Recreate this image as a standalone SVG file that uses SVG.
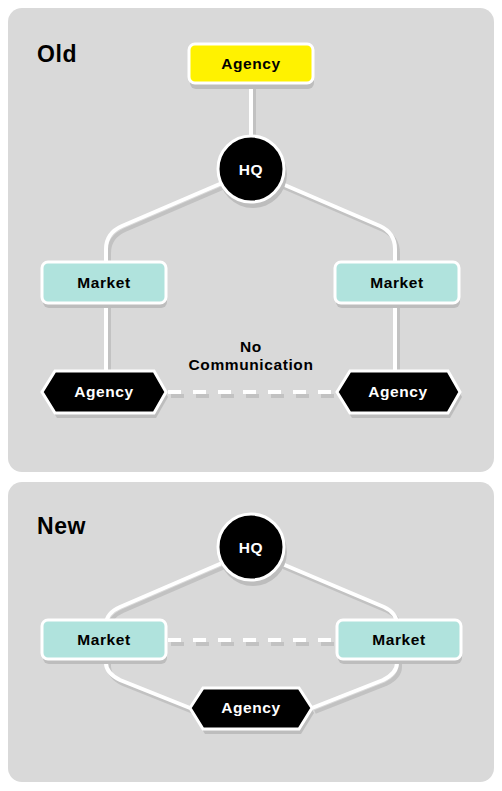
<svg xmlns="http://www.w3.org/2000/svg" width="502" height="791" viewBox="0 0 502 791">
<defs>
<style>
.panel{fill:#d9d9d9}
.sh{fill:#bdbdbd}
.lnsh{fill:none;stroke:#c2c2c2;stroke-width:4}
.ln{fill:none;stroke:#fff;stroke-width:4}
.dash{stroke-dasharray:13 12}
.mk{fill:#b0e3dd;stroke:#fff;stroke-width:3}
.ag{fill:#000;stroke:#fff;stroke-width:3}
.yl{fill:#fff200;stroke:#fff;stroke-width:3}
.t{font-family:"Liberation Sans",Arial,sans-serif;font-weight:bold;font-size:15.5px;letter-spacing:0.6px;text-anchor:middle}
.tw{fill:#fff}
.tb{fill:#000}
.title{font-family:"Liberation Sans",Arial,sans-serif;font-weight:bold;font-size:23px;letter-spacing:0.6px;fill:#000}
</style>
</defs>
<rect x="0" y="0" width="502" height="791" fill="#fff"/>
<rect class="panel" x="8" y="8" width="486" height="464" rx="14"/>
<rect class="panel" x="8" y="482" width="486" height="300" rx="14"/>
<text class="title" x="37" y="62">Old</text>
<text class="title" x="37" y="534">New</text>

<g id="connectors">
  <g transform="translate(3,4)">
    <path class="lnsh" d="M251 84 L251 137"/>
    <path class="lnsh" d="M222 183 L122 226 Q106 233 106 249 L106 372"/>
    <path class="lnsh" d="M280 183 L380 226 Q395 233 395 249 L395 372"/>
    <path class="lnsh dash" d="M168 392 L336 392"/>
    <path class="lnsh" d="M222 563 L120 607 Q106 613 106 625"/>
    <path class="lnsh" d="M280 563 L384 607 Q397 613 397 625"/>
    <path class="lnsh" d="M106 658 L106 663 Q106 673 120 680 L190 708"/>
    <path class="lnsh" d="M397 658 L397 663 Q397 673 383 680 L312 708"/>
    <path class="lnsh dash" d="M168 640 L336 640"/>
  </g>
  <path class="ln" d="M251 84 L251 137"/>
  <path class="ln" d="M222 183 L122 226 Q106 233 106 249 L106 372"/>
  <path class="ln" d="M280 183 L380 226 Q395 233 395 249 L395 372"/>
  <path class="ln dash" d="M168 392 L336 392"/>
  <path class="ln" d="M222 563 L120 607 Q106 613 106 625"/>
  <path class="ln" d="M280 563 L384 607 Q397 613 397 625"/>
  <path class="ln" d="M106 658 L106 663 Q106 673 120 680 L190 708"/>
  <path class="ln" d="M397 658 L397 663 Q397 673 383 680 L312 708"/>
  <path class="ln dash" d="M168 640 L336 640"/>
</g>

<g id="old-agency-top">
  <rect class="sh" x="190" y="49" width="124" height="40" rx="6"/>
  <rect class="yl" x="189" y="44" width="124" height="39" rx="6"/>
  <text class="t tb" x="251" y="69">Agency</text>
</g>
<g id="old-hq">
  <circle class="sh" cx="253" cy="174" r="34"/>
  <circle class="ag" cx="251" cy="169" r="33"/>
  <text class="t tw" x="251" y="175">HQ</text>
</g>
<g id="old-market-left">
  <rect class="sh" x="43" y="267" width="124" height="41" rx="6"/>
  <rect class="mk" x="42" y="262" width="124" height="41" rx="6"/>
  <text class="t tb" x="104" y="288">Market</text>
</g>
<g id="old-market-right">
  <rect class="sh" x="336" y="267" width="124" height="41" rx="6"/>
  <rect class="mk" x="335" y="262" width="124" height="41" rx="6"/>
  <text class="t tb" x="397" y="288">Market</text>
</g>
<g id="old-agency-left">
  <polygon class="sh" points="44,397 57,376 156,376 168,397 156,418 57,418"/>
  <polygon class="ag" points="42,392 55,371 154,371 166,392 154,413 55,413"/>
  <text class="t tw" x="104" y="397">Agency</text>
</g>
<g id="old-agency-right">
  <polygon class="sh" points="339,397 352,376 450,376 462,397 450,418 352,418"/>
  <polygon class="ag" points="337,392 350,371 448,371 460,392 448,413 350,413"/>
  <text class="t tw" x="398" y="397">Agency</text>
</g>
<g id="no-communication">
  <text class="t tb" x="251" y="352">No</text>
  <text class="t tb" x="251" y="370">Communication</text>
</g>

<g id="new-hq">
  <circle class="sh" cx="253" cy="552" r="34"/>
  <circle class="ag" cx="251" cy="547" r="33"/>
  <text class="t tw" x="251" y="553">HQ</text>
</g>
<g id="new-market-left">
  <rect class="sh" x="43" y="625" width="124" height="39" rx="6"/>
  <rect class="mk" x="42" y="620" width="124" height="39" rx="6"/>
  <text class="t tb" x="104" y="645">Market</text>
</g>
<g id="new-market-right">
  <rect class="sh" x="338" y="625" width="124" height="39" rx="6"/>
  <rect class="mk" x="337" y="620" width="124" height="39" rx="6"/>
  <text class="t tb" x="399" y="645">Market</text>
</g>
<g id="new-agency">
  <polygon class="sh" points="192,713 205,693 301,693 314,713 301,734 205,734"/>
  <polygon class="ag" points="190,708 203,688 299,688 312,708 299,729 203,729"/>
  <text class="t tw" x="251" y="713">Agency</text>
</g>
</svg>
